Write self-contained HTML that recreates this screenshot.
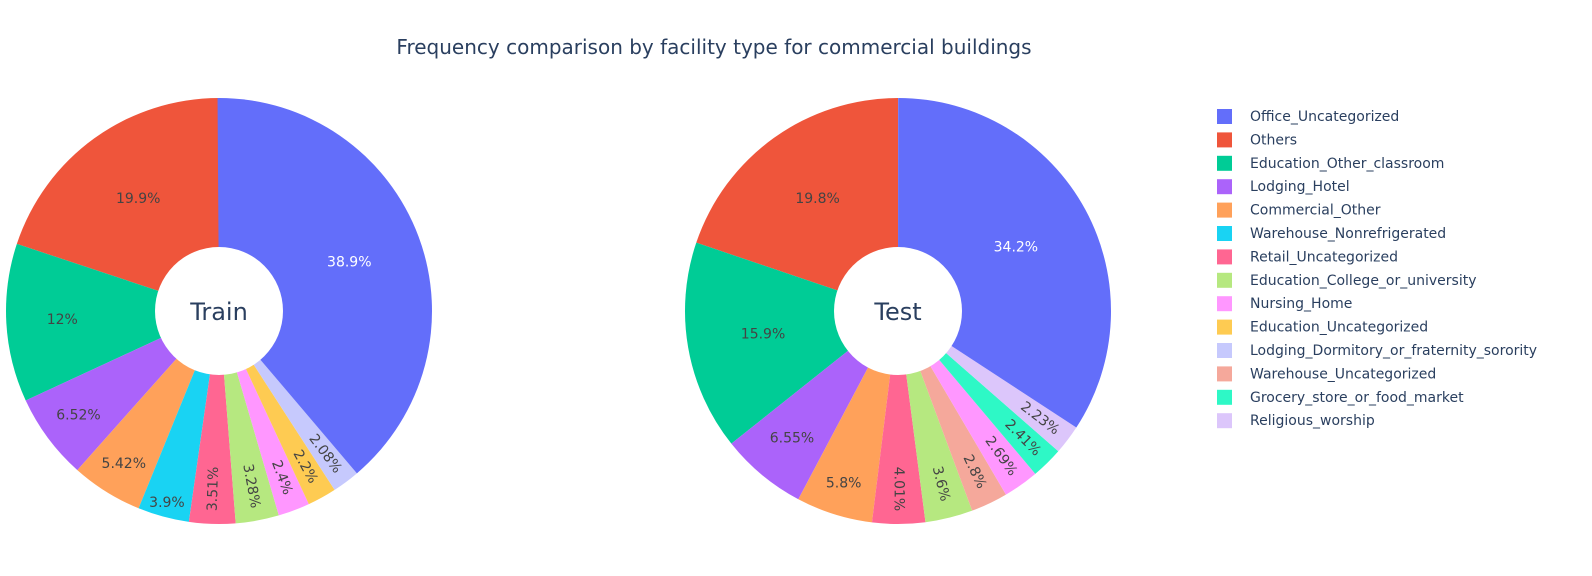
<!DOCTYPE html>
<html><head><meta charset="utf-8"><style>
body{margin:0;background:#fff;width:1592px;height:572px;overflow:hidden;font-family:"DejaVu Sans",sans-serif}
</style></head><body>
<svg id="s" width="1592" height="572" xmlns="http://www.w3.org/2000/svg" font-family="DejaVu Sans, sans-serif">
<text x="714" y="54" text-anchor="middle" font-size="20" fill="#2a3f5f">Frequency comparison by facility type for commercial buildings</text>
</svg>
<script>
const C={Office:'#636efa',Others:'#EF553B',Edu:'#00cc96',Lodg:'#ab63fa',Comm:'#FFA15A',Ware:'#19d3f3',Ret:'#FF6692',Col:'#B6E880',Nur:'#FF97FF',EduU:'#FECB52',Dorm:'#c6c9fd',WareU:'#f5a89b',Gro:'#2ef8c6',Rel:'#dcc6fb'};
const s=document.getElementById('s');const NS='http://www.w3.org/2000/svg';
function el(t,a,txt){const e=document.createElementNS(NS,t);for(const k in a)e.setAttribute(k,a[k]);if(txt)e.textContent=txt;s.appendChild(e);return e;}
function pie(cx,cy,R,r0,data,name){
 let f=0;
 const labels=[];
 data.forEach(d=>{
  const p=d[1]/100, a1=2*Math.PI*f, a2=2*Math.PI*(f+p);
  const P=a=>[cx-R*Math.sin(a),cy-R*Math.cos(a)];
  const [x1,y1]=P(a1),[x2,y2]=P(a2);
  el('path',{d:`M${cx},${cy}L${x1},${y1}A${R},${R} 0 ${p>0.5?1:0} 0 ${x2},${y2}Z`,fill:C[d[0]]});
  const am=(a1+a2)/2;labels.push([d,am]);f+=p;
 });
 el('circle',{cx,cy,r:r0,fill:'#fff'});
 labels.forEach(([d,am])=>{
  const lr=d[2];const x=cx-lr*Math.sin(am),y=cy-lr*Math.cos(am);
  const col=(d[0]=='Office')?'#fff':'#444';
  let rot=0;
  if(d[3]){rot=Math.atan2(-Math.cos(am),-Math.sin(am))*180/Math.PI;if(rot>90)rot-=180;if(rot<=-90)rot+=180;}
  el('text',{x,y,'text-anchor':'middle','dominant-baseline':'central','font-size':14,fill:col,transform:`rotate(${rot} ${x} ${y})`},d[1]+'%');
 });
 el('text',{x:cx,y:cy+9,'text-anchor':'middle','font-size':24,fill:'#2a3f5f'},name);
}
pie(219,311,213,64,[['Others',19.9,138],['Edu',12,157],['Lodg',6.52,175],['Comm',5.42,180],['Ware',3.9,199],['Ret',3.51,178,1],['Col',3.28,178,1],['Nur',2.4,178,1],['EduU',2.2,178,1],['Dorm',2.08,178,1],['Office',38.9,139]],'Train');
pie(898,311,213,64,[['Others',19.8,138],['Edu',15.9,137],['Lodg',6.55,166],['Comm',5.8,181],['Ret',4.01,178,1],['Col',3.6,178,1],['WareU',2.8,178,1],['Nur',2.69,178,1],['Gro',2.41,178,1],['Rel',2.23,178,1],['Office',34.2,134]],'Test');
const L=[['Office','Office_Uncategorized'],['Others','Others'],['Edu','Education_Other_classroom'],['Lodg','Lodging_Hotel'],['Comm','Commercial_Other'],['Ware','Warehouse_Nonrefrigerated'],['Ret','Retail_Uncategorized'],['Col','Education_College_or_university'],['Nur','Nursing_Home'],['EduU','Education_Uncategorized'],['Dorm','Lodging_Dormitory_or_fraternity_sorority'],['WareU','Warehouse_Uncategorized'],['Gro','Grocery_store_or_food_market'],['Rel','Religious_worship']];
L.forEach((l,i)=>{const y=116+i*23.4;el('rect',{x:1217,y:y-7,width:15,height:15,fill:C[l[0]]});el('text',{x:1250,y:y+5,'font-size':14,fill:'#2a3f5f'},l[1]);});
</script>
</body></html>
